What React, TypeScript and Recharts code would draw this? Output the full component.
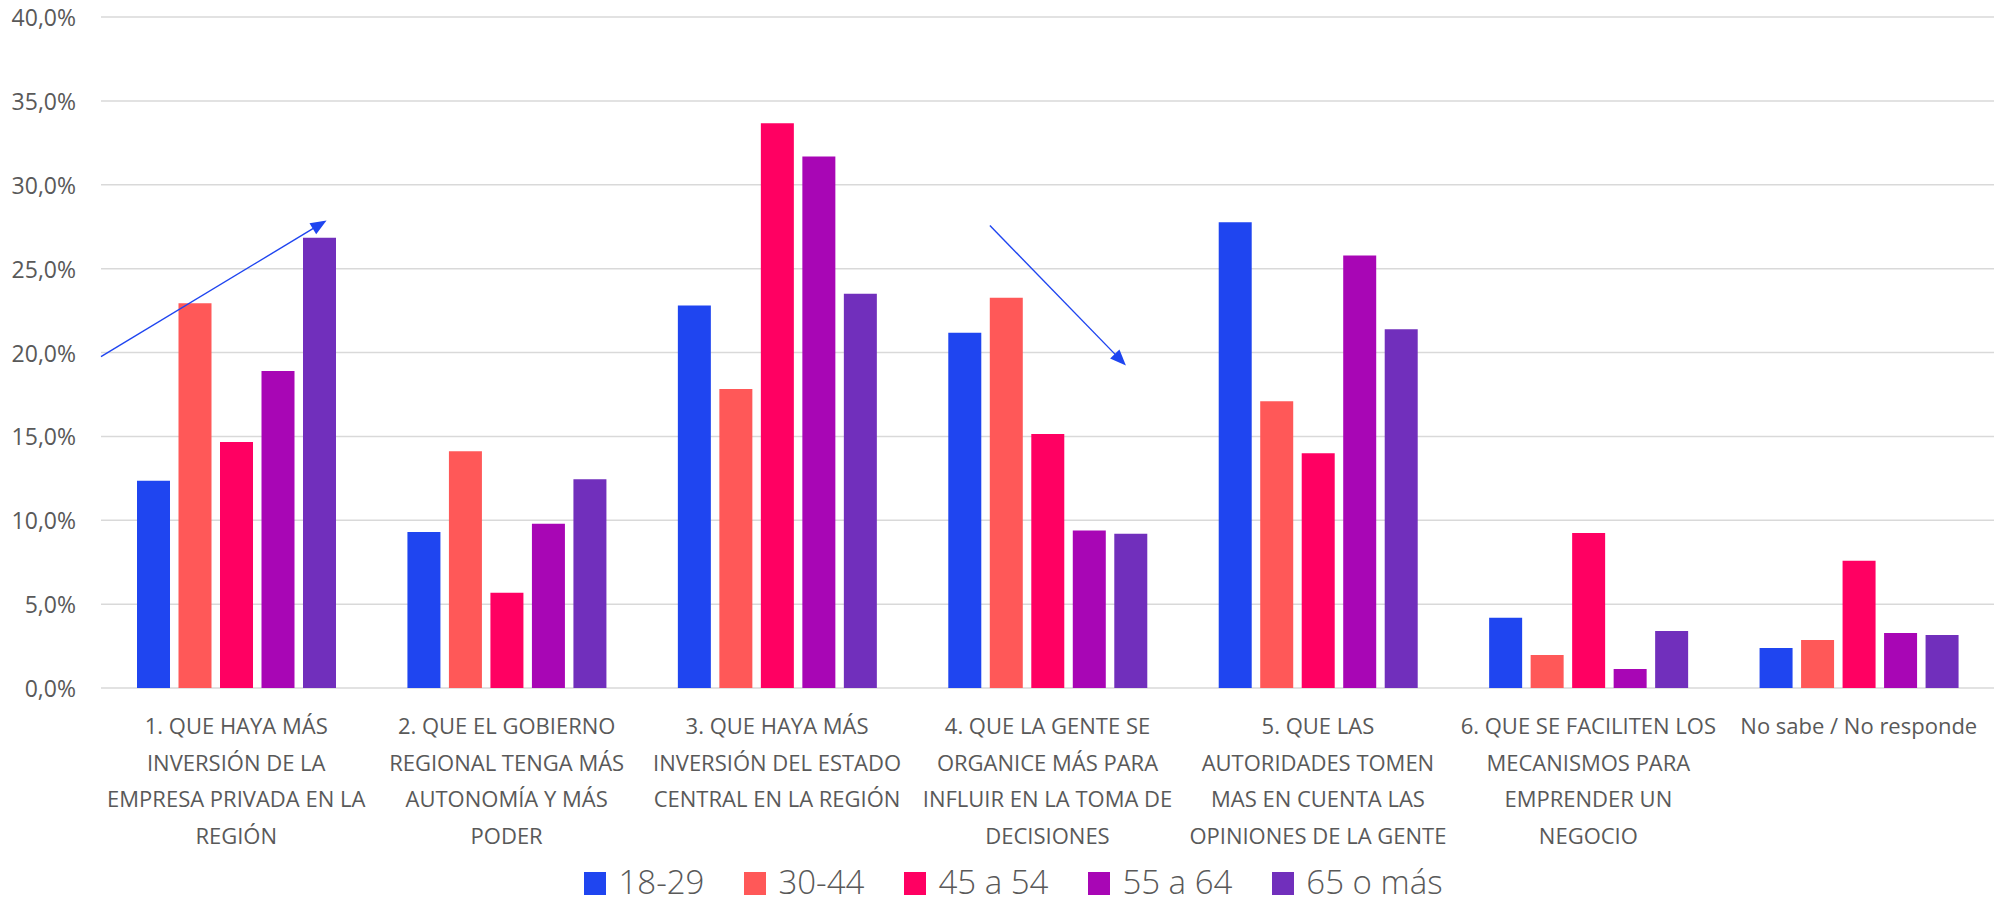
import { BarChart, Bar, XAxis, YAxis, CartesianGrid, Legend } from 'recharts'

const categories = [
  '1. QUE HAYA MÁS\nINVERSIÓN DE LA\nEMPRESA PRIVADA EN LA\nREGIÓN',
  '2. QUE EL GOBIERNO\nREGIONAL TENGA MÁS\nAUTONOMÍA Y MÁS\nPODER',
  '3. QUE HAYA MÁS\nINVERSIÓN DEL ESTADO\nCENTRAL EN LA REGIÓN',
  '4. QUE LA GENTE SE\nORGANICE MÁS PARA\nINFLUIR EN LA TOMA DE\nDECISIONES',
  '5. QUE LAS\nAUTORIDADES TOMEN\nMAS EN CUENTA LAS\nOPINIONES DE LA GENTE',
  '6. QUE SE FACILITEN LOS\nMECANISMOS PARA\nEMPRENDER UN\nNEGOCIO',
  'No sabe / No responde',
]

const age18to29 = [12.35, 9.3, 22.8, 21.17, 27.77, 4.19, 2.38]
const age30to44 = [22.93, 14.12, 17.82, 23.26, 17.1, 1.97, 2.86]
const age45to54 = [14.67, 5.68, 33.67, 15.14, 14.0, 9.24, 7.59]
const age55to64 = [18.9, 9.79, 31.68, 9.39, 25.78, 1.13, 3.28]
const age65plus = [26.84, 12.45, 23.5, 9.2, 21.39, 3.4, 3.16]

const seriesNames = ['18-29', '30-44', '45 a 54', '55 a 64', '65 o más']
const seriesColors = ['#1F45F0', '#FF5858', '#FF0062', '#A806B5', '#712FBC']

const yTicks = [0, 5, 10, 15, 20, 25, 30, 35, 40]

// arrows drawn by hand on the original (x in category units from the left edge, y in %)
const arrowUp = [{ x: 0, y: 19.76 }, { x: 0.834, y: 27.87 }]
const arrowDown = [{ x: 3.287, y: 27.57 }, { x: 3.79, y: 19.23 }]

const data = categories.map((name, i) => ({
  name,
  a: age18to29[i],
  b: age30to44[i],
  c: age45to54[i],
  d: age55to64[i],
  e: age65plus[i],
}))

const keys = ['a', 'b', 'c', 'd', 'e']
const FONT = '"Open Sans", "Noto Sans", sans-serif'
const GRAY = '#595959'

const W = 1997
const H = 901
const MARGIN = { top: 17, right: 3, left: 0, bottom: 0 }
const Y_WIDTH = 101
const X_HEIGHT = 168
const LEGEND_H = 45
const plotLeft = MARGIN.left + Y_WIDTH
const plotRight = W - MARGIN.right
const plotTop = MARGIN.top
const plotBottom = H - MARGIN.bottom - LEGEND_H - X_HEIGHT
const px = (u: number) => plotLeft + (u * (plotRight - plotLeft)) / categories.length
const py = (v: number) => plotBottom - (v / 40) * (plotBottom - plotTop)

function YTick({ x, y, payload }: any) {
  return (
    <text x={x} y={y} textAnchor="end" dominantBaseline="central" fontSize={23} fill={GRAY} fontFamily={FONT}>
      {payload.value.toFixed(1).replace('.', ',') + '%'}
    </text>
  )
}

function XTick({ x, y, payload }: any) {
  const lines = String(payload.value).split('\n')
  return (
    <g>
      {lines.map((ln: string, i: number) => (
        <text
          key={i}
          x={x}
          y={y + 37 + i * 36.7}
          textAnchor="middle"
          dominantBaseline="central"
          fontSize={22}
          fill={GRAY}
          fontFamily={FONT}
        >
          {ln}
        </text>
      ))}
    </g>
  )
}

function Arrow({ pts }: { pts: { x: number; y: number }[] }) {
  const x1 = px(pts[0].x)
  const y1 = py(pts[0].y)
  const x2 = px(pts[1].x)
  const y2 = py(pts[1].y)
  const dx = x2 - x1
  const dy = y2 - y1
  const len = Math.sqrt(dx * dx + dy * dy)
  const ux = dx / len
  const uy = dy / len
  const bx = x2 - ux * 16
  const by = y2 - uy * 16
  const head = `${x2},${y2} ${bx - uy * 6.5},${by + ux * 6.5} ${bx + uy * 6.5},${by - ux * 6.5}`
  return (
    <g>
      <line x1={x1} y1={y1} x2={bx + ux * 2} y2={by + uy * 2} stroke="#1F45F0" strokeWidth={1.4} />
      <polygon points={head} fill="#1F45F0" />
    </g>
  )
}

function LegendBox({ payload }: any) {
  return (
    <div
      style={{
        display: 'flex',
        justifyContent: 'center',
        paddingTop: 7,
        paddingLeft: 33,
        fontFamily: FONT,
      }}
    >
      {(payload || []).map((p: any, i: number) => (
        <div key={i} style={{ display: 'flex', alignItems: 'center', marginRight: i < 4 ? 40 : 0, height: 38 }}>
          <span style={{ display: 'inline-block', width: 22, height: 23, background: p.color, marginRight: 12, marginTop: 2 }} />
          <span
            style={{
              display: 'inline-block',
              height: 38,
              fontSize: 33,
              color: GRAY,
              fontWeight: 300,
              lineHeight: '38px',
            }}
          >
            {p.value}
          </span>
        </div>
      ))}
    </div>
  )
}

export default function App() {
  return (
    <div style={{ position: 'relative', width: W, height: H, background: '#fff' }}>
      <style>{'body{margin:0}'}</style>
      <BarChart width={W} height={H} data={data} margin={MARGIN} barSize={33} barGap={8.5}>
        <CartesianGrid vertical={false} stroke="#D9D9D9" strokeWidth={1.5} />
        <XAxis
          dataKey="name"
          axisLine={false}
          tickLine={false}
          tickSize={0}
          tickMargin={0}
          height={X_HEIGHT}
          interval={0}
          tick={<XTick />}
        />
        <YAxis
          domain={[0, 40]}
          ticks={yTicks}
          axisLine={false}
          tickLine={false}
          tickSize={0}
          tickMargin={25}
          width={Y_WIDTH}
          tick={<YTick />}
        />
        <Legend verticalAlign="bottom" height={LEGEND_H} content={<LegendBox />} />
        {keys.map((k, i) => (
          <Bar key={k} dataKey={k} name={seriesNames[i]} fill={seriesColors[i]} isAnimationActive={false} />
        ))}
      </BarChart>
      <svg width={W} height={H} style={{ position: 'absolute', left: 0, top: 0, pointerEvents: 'none' }}>
        <Arrow pts={arrowUp} />
        <Arrow pts={arrowDown} />
      </svg>
    </div>
  )
}
